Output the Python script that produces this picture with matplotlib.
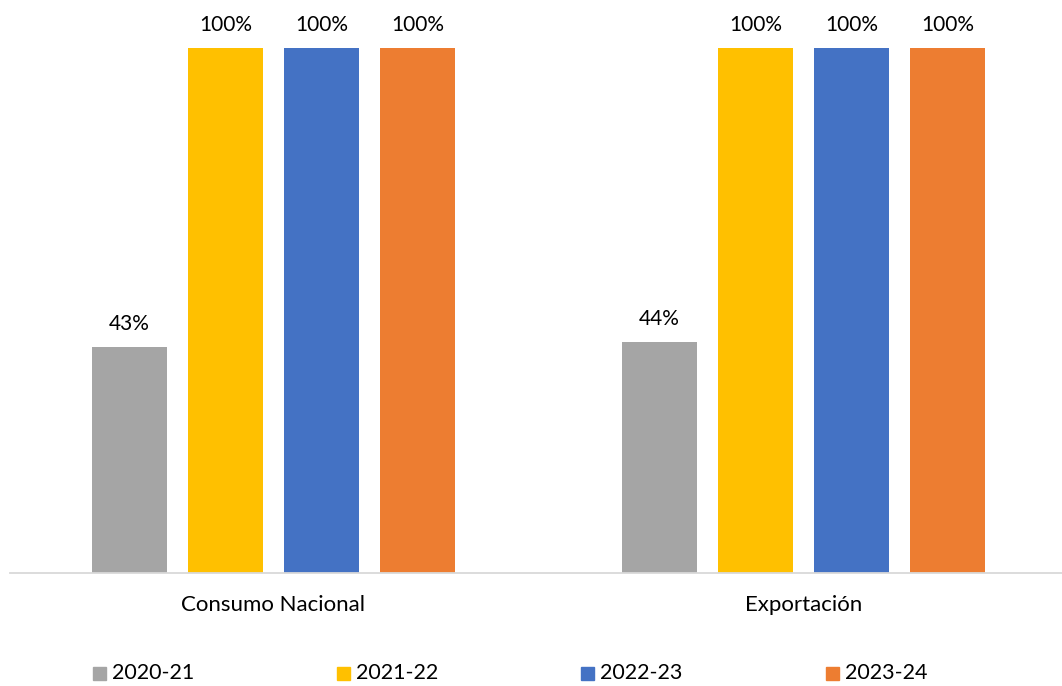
import numpy as np
import matplotlib
matplotlib.use('Agg')
import matplotlib.pyplot as plt
from matplotlib.patches import Rectangle

categories = ["Consumo Nacional", "Exportación"]
series = ["2020-21", "2021-22", "2022-23", "2023-24"]
values = [
    [0.43, 0.44],
    [1.00, 1.00],
    [1.00, 1.00],
    [1.00, 1.00],
]
colors = ["#A5A5A5", "#FFC000", "#4472C4", "#ED7D31"]

plt.rcParams['font.family'] = ['Lato', 'DejaVu Sans']

W, H = 1062, 686
fig = plt.figure(figsize=(W / 100, H / 100), dpi=100)
# axes placed in pixels: baseline at y=573, 100% at y=48
ax = fig.add_axes([10 / W, 1 - 573 / H, 1 - 10 / W, 525 / H])

bar_w = 0.1415
step = 0.1811
x = np.arange(len(categories))
for i, (name, vals) in enumerate(zip(series, values)):
    offs = (i - 1.5) * step
    bars = ax.bar(x + offs, vals, width=bar_w, color=colors[i], zorder=2)
    for b, v in zip(bars, vals):
        ax.annotate("{:.0f}%".format(v * 100),
                    (b.get_x() + b.get_width() / 2, b.get_height()),
                    xytext=(0, 9.5), textcoords='offset points',
                    ha='center', va='bottom', fontsize=15, color='black')

ax.set_xlim(-0.497, 1.488)
ax.set_ylim(0, 1.0)
ax.set_xticks(x)
ax.set_xticklabels(categories, fontsize=16)
ax.tick_params(axis='x', length=0, pad=16)
ax.set_yticks([])
for s in ['top', 'right', 'left']:
    ax.spines[s].set_visible(False)
ax.spines['bottom'].set_color('#D9D9D9')
ax.spines['bottom'].set_linewidth(1.3)

# legend along the bottom
leg_x = [93, 337, 581, 826]
leg_y = 673
for i, name in enumerate(series):
    fig.add_artist(Rectangle((leg_x[i] / W, (H - leg_y - 6.5) / H), 13 / W, 13 / H,
                             transform=fig.transFigure, color=colors[i]))
    fig.text((leg_x[i] + 19) / W, (H - leg_y) / H, name, fontsize=15.5,
             ha='left', va='center', color='black')

fig.savefig('out.png', dpi=100)
